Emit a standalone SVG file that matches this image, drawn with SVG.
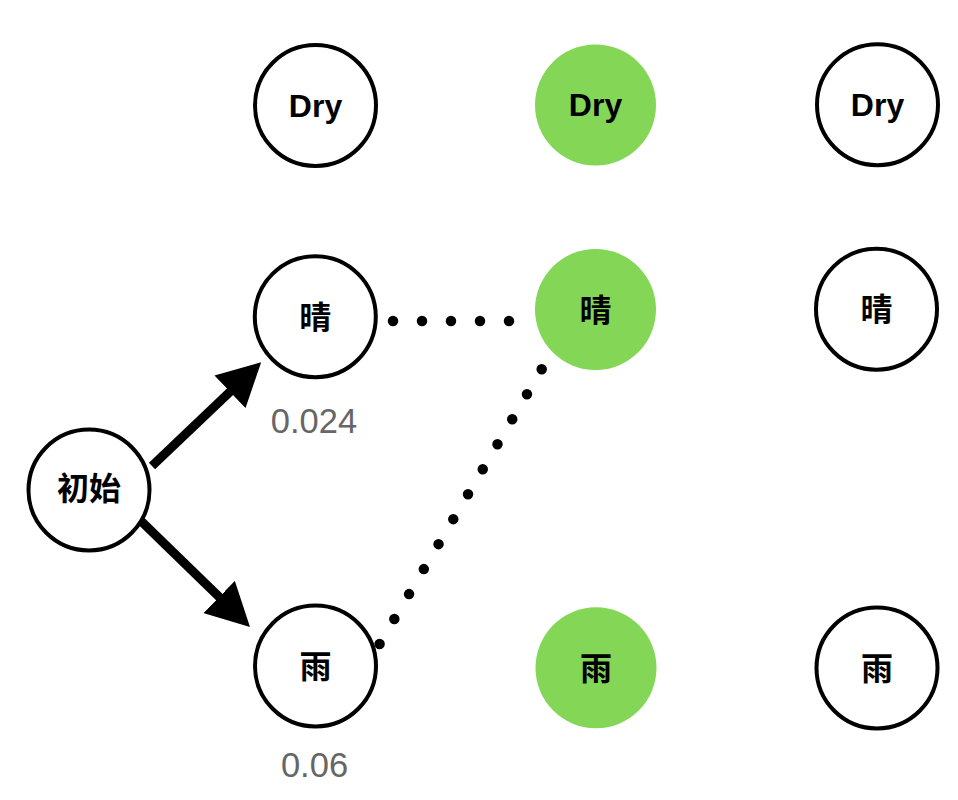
<svg xmlns="http://www.w3.org/2000/svg" width="958" height="800" viewBox="0 0 958 800">
  <style>
    .node { fill: #ffffff; stroke: #000000; stroke-width: 4; }
    .hl { fill: #83d656; stroke: none; }
    .lbl { font-family: "Liberation Sans", Arial, "Noto Sans CJK SC", sans-serif; font-weight: bold; font-size: 32px; fill: #000000; text-anchor: middle; }
    .cjk { font-family: "Noto Sans CJK SC", "Noto Sans CJK JP", sans-serif; font-weight: bold; font-size: 32px; fill: #000000; text-anchor: middle; }
    .prob { font-family: "Liberation Sans", Arial, sans-serif; font-size: 34.5px; fill: #666666; text-anchor: middle; }
    .arrow { stroke: #000000; stroke-width: 9; fill: none; marker-end: url(#head); }
    .dots { stroke: #000000; stroke-width: 10.5; stroke-linecap: round; stroke-dasharray: 0 29; fill: none; }
  </style>
  <defs>
    <marker id="head" viewBox="0 0 43 45" markerWidth="43" markerHeight="45" markerUnits="userSpaceOnUse" refX="8" refY="22.5" orient="auto">
      <path d="M0,0 L43,22.5 L0,45 Z" fill="#000000"/>
    </marker>
  </defs>
  <rect width="958" height="800" fill="#ffffff"/>

  <g id="connectors">
    <path class="arrow" d="M152,466 L235.8,386.3"/>
    <path class="arrow" d="M141,521 L224.9,602.6"/>
    <path class="dots" d="M393,321 L510,321"/>
    <path class="dots" d="M541.7,369.3 L379.5,644.2"/>
  </g>

  <g id="node-dry-1"><circle class="node" cx="315.5" cy="105.5" r="60.5"/><text class="lbl" x="315.5" y="116.5">Dry</text></g>
  <g id="node-dry-2"><circle class="hl" cx="595.5" cy="105" r="60.5"/><text class="lbl" x="595.5" y="116">Dry</text></g>
  <g id="node-dry-3"><circle class="node" cx="877.5" cy="104.7" r="60.5"/><text class="lbl" x="877.5" y="116">Dry</text></g>

  <g id="node-sun-1"><circle class="node" cx="315.3" cy="316.7" r="60.5"/><text class="cjk" x="315.3" y="328.5">晴</text></g>
  <g id="node-sun-2"><circle class="hl" cx="595.5" cy="309.5" r="60.5"/><text class="cjk" x="595.5" y="321.5">晴</text></g>
  <g id="node-sun-3"><circle class="node" cx="876.5" cy="309.2" r="60.5"/><text class="cjk" x="876.5" y="321">晴</text></g>

  <g id="node-init"><circle class="node" cx="89" cy="490" r="60.5"/><text class="cjk" x="89" y="500">初始</text></g>

  <g id="node-rain-1"><circle class="node" cx="315.5" cy="666" r="60.5"/><text class="cjk" x="315.5" y="678">雨</text></g>
  <g id="node-rain-2"><circle class="hl" cx="596" cy="667.8" r="60.5"/><text class="cjk" x="596" y="679.5">雨</text></g>
  <g id="node-rain-3"><circle class="node" cx="877" cy="668" r="60.5"/><text class="cjk" x="877" y="680">雨</text></g>

  <g id="label-sun-prob"><text class="prob" x="314" y="433">0.024</text></g>
  <g id="label-rain-prob"><text class="prob" x="314.5" y="777">0.06</text></g>
</svg>
